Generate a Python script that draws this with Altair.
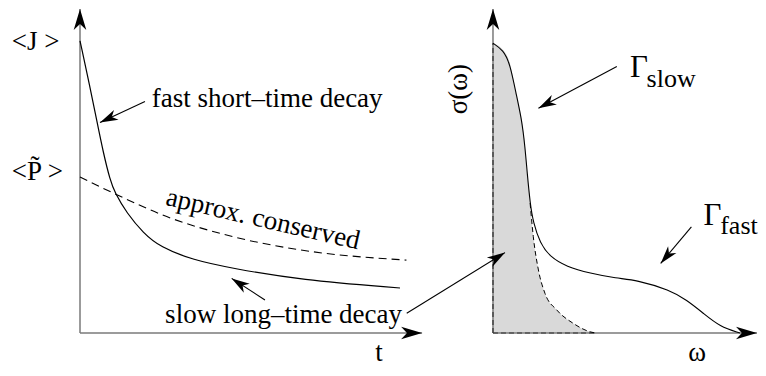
import math
import altair as alt
import pandas as pd

# ---------------- data (schematic units) ----------------
# left panel: time t, value
t_J = [0.0, 0.31, 0.52, 0.73, 0.94, 1.09, 1.46, 1.98, 2.5, 3.53, 4.78, 6.88, 10.0]
J_vals = [9.74, 8.21, 7.10, 6.0, 5.10, 4.67, 4.0, 3.33, 2.87, 2.43, 2.15, 1.77, 1.5]
t_P = [0.0, 1.03, 2.71, 4.78, 6.88, 10.2]
P_vals = [5.2, 4.67, 3.88, 3.21, 2.77, 2.43]

# right panel: frequency omega, sigma
w_sig = [0.0, 0.32, 0.53, 0.74, 0.9, 1.0, 1.07, 1.16, 1.26, 1.47, 1.78, 2.3, 3.03,
         3.86, 4.48, 5.53, 6.05, 6.57, 7.09, 7.72]
sig_vals = [9.66, 9.43, 8.99, 7.88, 7.1, 6.21, 5.32, 4.33, 3.67, 3.0, 2.54, 2.21, 1.99,
            1.82, 1.77, 1.43, 1.1, 0.66, 0.21, 0.0]
w_slow = [0.0, 0.32, 0.53, 0.74, 0.9, 1.0, 1.07, 1.16, 1.26, 1.42, 1.625, 1.99, 2.51, 3.03, 3.2]
slow_vals = [9.66, 9.43, 8.99, 7.88, 7.1, 6.21, 5.32, 4.33, 3.21, 2.1, 1.32, 0.77, 0.32, 0.04, 0.0]

# axis extents
T_AXIS_END = 10.69
W_AXIS_END = 8.25
V_AXIS_END = 10.8

# layout of the two panels in a shared frame
OMEGA0 = 12.906
XMIN, XMAX = -2.25, 21.1875
YMIN, YMAX = -1.1667, 10.8333
W, H = 750, 360
PXX = W / (XMAX - XMIN)
PXY = H / (YMAX - YMIN)

FONT = "Liberation Serif, Times New Roman, Times, DejaVu Serif, serif"

xs = alt.Scale(domain=[XMIN, XMAX], nice=False, zero=False)
ys = alt.Scale(domain=[YMIN, YMAX], nice=False, zero=False)


def X(field):
    return alt.X(field, type="quantitative", scale=xs, axis=None)


def Y(field):
    return alt.Y(field, type="quantitative", scale=ys, axis=None)


# ---------------- curves ----------------
dfJ = pd.DataFrame({"x": t_J, "y": J_vals, "i": range(len(t_J))})
dfP = pd.DataFrame({"x": t_P, "y": P_vals, "i": range(len(t_P))})
dfS = pd.DataFrame({"x": [OMEGA0 + w for w in w_sig], "y": sig_vals, "i": range(len(w_sig))})
dfSl = pd.DataFrame({"x": [OMEGA0 + w for w in w_slow], "y": slow_vals,
                     "z": [0.0] * len(w_slow)})
dfSlTail = dfSl[dfSl["x"] >= OMEGA0 + 1.1]

area = alt.Chart(dfSl).mark_area(color="#d9d9d9", opacity=1, interpolate="monotone").encode(
    x=X("x"), y=alt.Y("y:Q", scale=ys, axis=None, stack=None), y2=alt.Y2("z"))

lineJ = alt.Chart(dfJ).mark_line(color="black", strokeWidth=1.2, interpolate="basis").encode(
    x=X("x"), y=Y("y"), order="i:Q")
lineP = alt.Chart(dfP).mark_line(color="black", strokeWidth=1.1, strokeDash=[8, 5],
                                 interpolate="monotone").encode(x=X("x"), y=Y("y"), order="i:Q")
lineS = alt.Chart(dfS).mark_line(color="black", strokeWidth=1.1, interpolate="basis").encode(
    x=X("x"), y=Y("y"), order="i:Q")
lineSl = alt.Chart(dfSlTail).mark_line(color="black", strokeWidth=1.0, strokeDash=[5, 3],
                                       interpolate="monotone").encode(x=X("x"), y=Y("y"))

# ---------------- axes (lines with arrow heads) ----------------
axes_df = pd.DataFrame({
    "x": [0.0, 0.0, OMEGA0, OMEGA0],
    "y": [0.0, 0.0, 0.0, 0.0],
    "x2": [0.0, T_AXIS_END, OMEGA0, OMEGA0 + W_AXIS_END],
    "y2": [V_AXIS_END, 0.0, V_AXIS_END, 0.0],
})
# dashed outline of the slow component along the right axes
dash_df = pd.DataFrame({
    "x": [OMEGA0, OMEGA0],
    "y": [0.0, 0.0],
    "x2": [OMEGA0, OMEGA0 + w_slow[-1]],
    "y2": [slow_vals[0], 0.0],
})

# annotation arrows: tail (x, y) -> tip (x2, y2)
ann_df = pd.DataFrame({
    "x": [2.03, 5.78, 10.21, OMEGA0 + 3.87, OMEGA0 + 6.20],
    "y": [7.72, 1.10, 0.66, 8.88, 3.54],
    "x2": [0.625, 4.74, OMEGA0 + 0.375, OMEGA0 + 1.42, OMEGA0 + 5.24],
    "y2": [7.02, 1.82, 2.68, 7.49, 2.32],
})


def heads(df):
    out = pd.DataFrame({"x": df["x2"], "y": df["y2"]})
    ang = []
    for _, r in df.iterrows():
        dx = (r["x2"] - r["x"]) * PXX
        dy = -(r["y2"] - r["y"]) * PXY
        ang.append(math.degrees(math.atan2(dy, dx)) % 360)
    out["ang"] = ang
    return out


ARROW = "M0,0 L-1,-0.3 L-0.72,0 L-1,0.3 Z"

axis_rules = alt.Chart(axes_df).mark_rule(color="#7a7a7a", strokeWidth=1.5).encode(
    x=X("x"), y=Y("y"), x2="x2", y2="y2")
dash_rules = alt.Chart(dash_df).mark_rule(color="#333333", strokeWidth=1.2, strokeDash=[5, 3]).encode(
    x=X("x"), y=Y("y"), x2="x2", y2="y2")
axis_heads = alt.Chart(heads(axes_df)).mark_point(
    shape=ARROW, filled=True, color="black", opacity=1, strokeWidth=0, size=1764).encode(
    x=X("x"), y=Y("y"), angle=alt.Angle("ang:Q", scale=None))

ann_rules = alt.Chart(ann_df).mark_rule(color="black", strokeWidth=1.1).encode(
    x=X("x"), y=Y("y"), x2="x2", y2="y2")
ann_heads = alt.Chart(heads(ann_df)).mark_point(
    shape=ARROW, filled=True, color="black", opacity=1, strokeWidth=0, size=1296).encode(
    x=X("x"), y=Y("y"), angle=alt.Angle("ang:Q", scale=None))

# ---------------- text ----------------
labels_left = pd.DataFrame({
    "x": [-2.13, -2.13, 2.24, 2.66],
    "y": [9.43, 5.1, 7.54, 0.333],
    "text": ["<J >", "<P\u0303 >", "fast short\u2013time decay", "slow long\u2013time decay"],
})
labels_center = pd.DataFrame({
    "x": [9.34, OMEGA0 + 6.38],
    "y": [-0.93, -0.93],
    "text": ["t", "\u03c9"],
})
txt_left = alt.Chart(labels_left).mark_text(
    font=FONT, fontSize=27, align="left", baseline="alphabetic", color="black").encode(
    x=X("x"), y=Y("y"), text="text:N")
txt_center = alt.Chart(labels_center).mark_text(
    font=FONT, fontSize=27, align="center", baseline="alphabetic", color="black").encode(
    x=X("x"), y=Y("y"), text="text:N")

approx_df = pd.DataFrame({"x": [5.66], "y": [3.53], "text": ["approx. conserved"]})
txt_approx = alt.Chart(approx_df).mark_text(
    font=FONT, fontSize=27, align="center", baseline="alphabetic", angle=13, color="black").encode(
    x=X("x"), y=Y("y"), text="text:N")

sigma_df = pd.DataFrame({"x": [OMEGA0 - 1.06], "y": [8.13], "text": ["\u03c3(\u03c9)"]})
txt_sigma = alt.Chart(sigma_df).mark_text(
    font=FONT, fontSize=27, align="center", baseline="middle", angle=270, color="black").encode(
    x=X("x"), y=Y("y"), text="text:N")

gamma_df = pd.DataFrame({"x": [OMEGA0 + 4.28, OMEGA0 + 6.58], "y": [8.54, 3.6],
                         "text": ["\u0393", "\u0393"]})
sub_df = pd.DataFrame({"x": [OMEGA0 + 4.80, OMEGA0 + 7.10], "y": [8.21, 3.3],
                       "text": ["slow", "fast"]})
txt_gamma = alt.Chart(gamma_df).mark_text(
    font=FONT, fontSize=31, align="left", baseline="alphabetic", color="black").encode(
    x=X("x"), y=Y("y"), text="text:N")
txt_sub = alt.Chart(sub_df).mark_text(
    font=FONT, fontSize=26, align="left", baseline="alphabetic", color="black").encode(
    x=X("x"), y=Y("y"), text="text:N")

chart = alt.layer(
    area, axis_rules, dash_rules, lineJ, lineP, lineS, lineSl,
    ann_rules, ann_heads, axis_heads,
    txt_left, txt_center, txt_approx, txt_sigma, txt_gamma, txt_sub,
).properties(
    width=W, height=H, padding=0,
    autosize=alt.AutoSizeParams(type="none"),
    background="white",
).configure_view(stroke=None)

chart.save("out.html", embed_options={"renderer": "svg", "actions": False})
